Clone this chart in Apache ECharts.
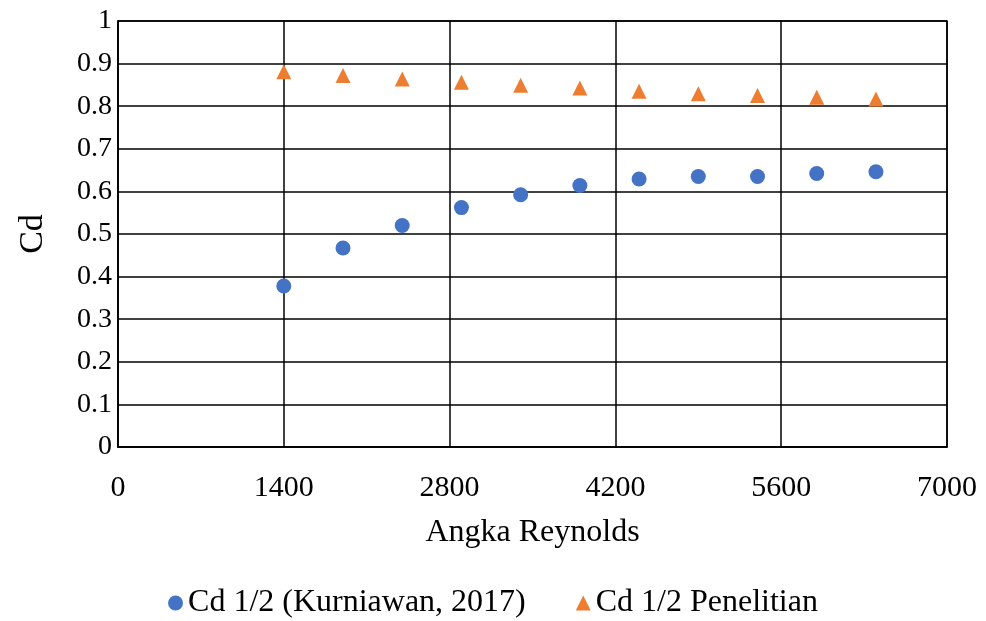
<!DOCTYPE html>
<html>
<head>
<meta charset="utf-8">
<script src="https://cdn.jsdelivr.net/npm/echarts@6/dist/echarts.min.js"></script>
<style>
  html, body { margin: 0; padding: 0; background: #fff; }
  #chart { width: 986px; height: 621px; }
</style>
</head>
<body>
<div id="chart"></div>
<script>
// Reynolds numbers at which the discharge coefficient was measured
const reynolds = [1400, 1900, 2400, 2900, 3400, 3900, 4400, 4900, 5400, 5900, 6400];
// Cd 1/2 from Kurniawan (2017)
const cdKurniawan = [0.378, 0.467, 0.520, 0.562, 0.592, 0.614, 0.629, 0.635, 0.635, 0.642, 0.646];
// Cd 1/2 from this study
const cdPenelitian = [0.881, 0.872, 0.864, 0.856, 0.849, 0.843, 0.835, 0.829, 0.825, 0.821, 0.817];

const xTicks = ['0', '1400', '2800', '4200', '5600', '7000'];
const yTicks = ['0', '0.1', '0.2', '0.3', '0.4', '0.5', '0.6', '0.7', '0.8', '0.9', '1'];

const seriesNames = ['Cd 1/2 (Kurniawan, 2017)', 'Cd 1/2 Penelitian'];

const FONT = 'Liberation Serif';
const X_STEP = 1400;
const chart = echarts.init(document.getElementById('chart'));

chart.setOption({
  animation: false,
  textStyle: { fontFamily: FONT, color: '#000' },
  grid: {
    left: 118, right: 39, top: 21, bottom: 174,
    show: true, borderColor: '#000', borderWidth: 1.5
  },
  legend: {
    top: 582,
    left: 'center',
    itemWidth: 15, itemHeight: 15,
    itemGap: 50,
    textStyle: { fontFamily: FONT, fontSize: 32, color: '#000' },
    data: [
      { name: seriesNames[0], icon: 'circle' },
      { name: seriesNames[1], icon: 'triangle' }
    ]
  },
  xAxis: {
    type: 'value',
    min: 0, max: X_STEP * (xTicks.length - 1),
    interval: X_STEP,
    name: 'Angka Reynolds',
    nameLocation: 'middle',
    nameGap: 70,
    nameTextStyle: { fontFamily: FONT, fontSize: 32, color: '#000' },
    axisLine: { show: true, lineStyle: { color: '#000', width: 1.5 } },
    axisTick: { show: false },
    axisLabel: {
      fontFamily: FONT, fontSize: 30, color: '#000', margin: 26,
      formatter: v => xTicks[Math.round(v / X_STEP)]
    },
    splitLine: { show: true, lineStyle: { color: '#000', width: 1.5 } }
  },
  yAxis: {
    type: 'value',
    min: 0, max: 1, interval: 0.1,
    name: 'Cd',
    nameLocation: 'middle',
    nameGap: 68,
    nameRotate: 90,
    nameTextStyle: { fontFamily: FONT, fontSize: 34, color: '#000' },
    axisLine: { show: true, lineStyle: { color: '#000', width: 1.5 } },
    axisTick: { show: false },
    axisLabel: {
      fontFamily: FONT, fontSize: 28, color: '#000', margin: 6,
      formatter: v => yTicks[Math.round(v * 10)]
    },
    splitLine: { show: true, lineStyle: { color: '#000', width: 1.5 } }
  },
  series: [
    {
      name: seriesNames[0],
      type: 'scatter',
      symbol: 'circle',
      symbolSize: 15,
      itemStyle: { color: '#4472C4', opacity: 1 },
      data: reynolds.map((r, i) => [r, cdKurniawan[i]])
    },
    {
      name: seriesNames[1],
      type: 'scatter',
      symbol: 'triangle',
      symbolSize: [15, 15],
      itemStyle: { color: '#ED7D31', opacity: 1 },
      data: reynolds.map((r, i) => [r, cdPenelitian[i]])
    }
  ]
});
</script>
</body>
</html>
